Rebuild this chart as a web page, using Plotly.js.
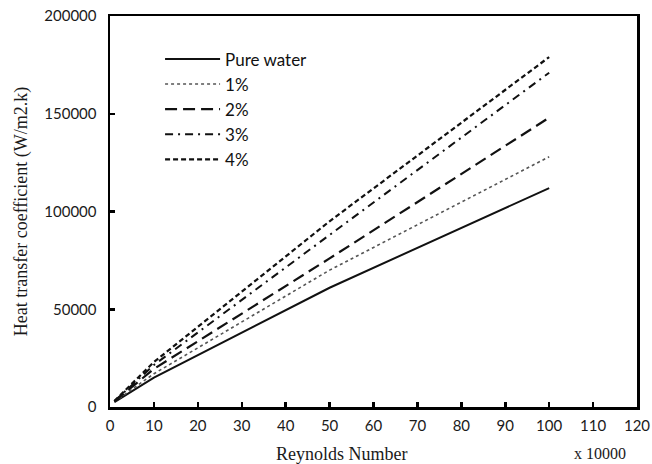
<!DOCTYPE html>
<html>
<head>
<meta charset="utf-8">
<script src="https://cdn.plot.ly/plotly-3.0.1.min.js"></script>
<style>html,body{margin:0;padding:0;background:#fff;}#chart{width:652px;height:464px;}</style>
</head>
<body>
<div id="chart"></div>
<script>
// Reynolds number (x 10000)
const reynolds = [1, 10, 50, 100];
const seriesNames = ["Pure water", "1%", "2%", "3%", "4%"];
const pureWater = [2500, 15000, 61000, 112000];
const conc1 = [2700, 17000, 70000, 128000];
const conc2 = [2900, 19500, 76000, 148000];
const conc3 = [3000, 21500, 88000, 171000];
const conc4 = [3100, 23000, 95000, 179000];
const xTicks = [0, 10, 20, 30, 40, 50, 60, 70, 80, 90, 100, 110, 120];
const yTicks = [0, 50000, 100000, 150000, 200000];

const values = [pureWater, conc1, conc2, conc3, conc4];
const dashes = ["solid", "dot", "12px,6px", "8px,5px,2px,5px", "5px,3px"];
const widths = [2, 1.6, 2.2, 2, 2.2];
const colors = ["#111", "#555", "#111", "#111", "#111"];

const traces = values.map((v, i) => ({
  type: "scatter", mode: "lines", x: reynolds, y: v, name: seriesNames[i],
  line: {color: colors[i], width: widths[i], dash: dashes[i]}
}));

const tickFont = {family: "Lato, 'Open Sans', sans-serif", size: 15, color: "#1a1a1a"};
const serif = "'Liberation Serif', 'DejaVu Serif', serif";

const layout = {
  width: 652, height: 464,
  margin: {l: 110, r: 15, t: 16, b: 57},
  paper_bgcolor: "#fff", plot_bgcolor: "#fff",
  showlegend: true,
  legend: {x: 0.095, y: 0.935, xanchor: "left", yanchor: "top",
    font: {family: "Lato, 'Open Sans', sans-serif", size: 17, color: "#111"},
    bgcolor: "rgba(0,0,0,0)", itemwidth: 55, tracegroupgap: 0},
  xaxis: {range: [0, 120], tickvals: xTicks, ticktext: xTicks.map(String),
    ticks: "inside", ticklen: 5, tickwidth: 2.5, tickcolor: "#000",
    showline: true, linecolor: "#000", linewidth: 2.5, mirror: true,
    showgrid: false, zeroline: false, tickfont: tickFont, ticklabelstandoff: 3},
  yaxis: {range: [0, 200000], tickvals: yTicks, ticktext: yTicks.map(String),
    ticks: "inside", ticklen: 5, tickwidth: 2.5, tickcolor: "#000",
    showline: true, linecolor: "#000", linewidth: 2.5, mirror: true,
    showgrid: false, zeroline: false, tickfont: tickFont, ticklabelstandoff: 8,
    title: {text: "Heat transfer coefficient (W/m2.k)", font: {family: serif, size: 18, color: "#1a1a1a"}, standoff: 12}},
  annotations: [
    {text: "Reynolds Number", xref: "paper", yref: "paper", x: 0.44, y: -0.12,
     xanchor: "center", yanchor: "middle", showarrow: false,
     font: {family: serif, size: 18, color: "#1a1a1a"}},
    {text: "x 10000", xref: "paper", yref: "paper", x: 0.93, y: -0.12,
     xanchor: "center", yanchor: "middle", showarrow: false,
     font: {family: serif, size: 16, color: "#1a1a1a"}}
  ]
};

Plotly.newPlot("chart", traces, layout, {staticPlot: true, displayModeBar: false});
</script>
</body>
</html>
